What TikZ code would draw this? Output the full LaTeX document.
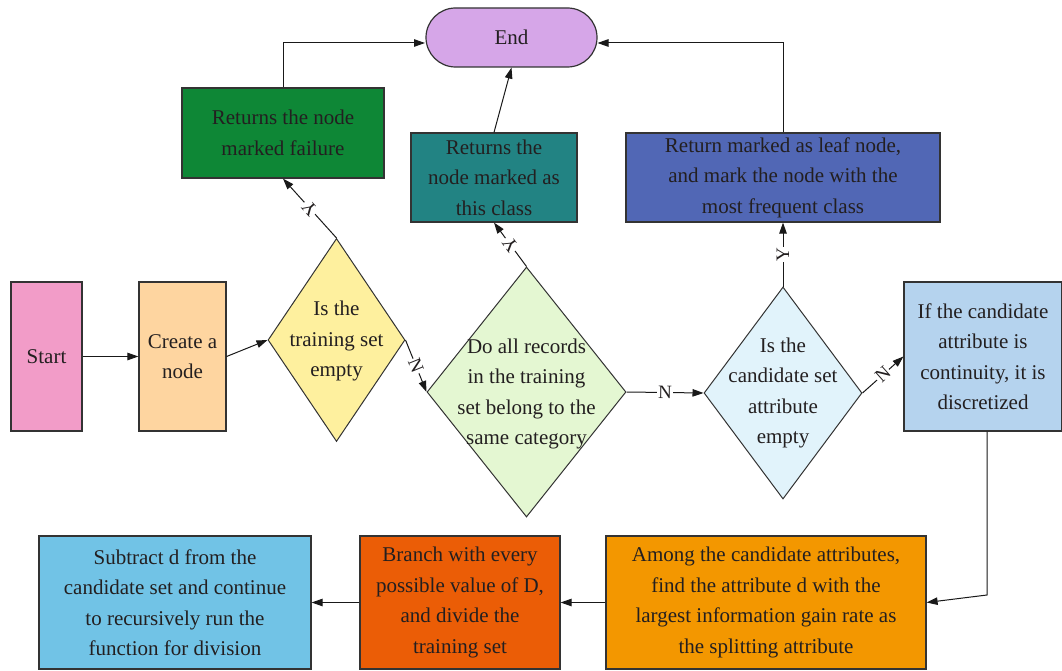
\documentclass[tikz,border=0pt]{standalone}
\usepackage{fontspec}
\setmainfont{Liberation Serif}
\usetikzlibrary{shapes.geometric,arrows.meta}
\definecolor{startC}{HTML}{F29CC8}
\definecolor{createC}{HTML}{FED5A0}
\definecolor{dOneC}{HTML}{FEF09E}
\definecolor{dTwoC}{HTML}{E4F7D2}
\definecolor{dThreeC}{HTML}{E1F3FB}
\definecolor{discC}{HTML}{B5D3EE}
\definecolor{endC}{HTML}{D6A6E8}
\definecolor{failC}{HTML}{0E8736}
\definecolor{tealC}{HTML}{228383}
\definecolor{leafC}{HTML}{5167B5}
\definecolor{amongC}{HTML}{F39700}
\definecolor{branchC}{HTML}{EB5D06}
\definecolor{subC}{HTML}{71C3E6}
\definecolor{edgeC}{HTML}{333333}
\definecolor{txtC}{HTML}{231F20}
\tikzset{
  box/.style={draw=edgeC, line width=1.2pt, rectangle, inner sep=0pt, align=center,
    text=txtC, font=\fontsize{21}{30.5}\selectfont},
  dia/.style={draw=edgeC, line width=1pt, diamond, inner sep=0pt},
  dtext/.style={align=center, text=txtC, font=\fontsize{21}{30.5}\selectfont, inner sep=0pt},
  arr/.style={draw=black!90, line width=1pt, -{Triangle[length=11pt,width=7.5pt]}},
  lbl/.style={fill=white, inner sep=1pt, text=txtC, font=\fontsize{19}{19}\selectfont, sloped, allow upside down}
}
\begin{document}
\begin{tikzpicture}[x=1pt,y=-1pt]
\useasboundingbox (0,0) rectangle (1062,671);
% nodes
\node[box, fill=startC, minimum width=71pt, minimum height=149pt] (start) at (46.5,356.5) {Start};
\node[box, fill=createC, minimum width=87pt, minimum height=149pt] (create) at (182.5,356.5) {Create a\\node};
\node[dia, fill=dOneC, minimum width=137pt, minimum height=203pt] (d1) at (336.5,340) {};
\node[dtext] (t1) at (336.5,341) {Is the\\training set\\empty};
\node[dia, fill=dTwoC, minimum width=199pt, minimum height=250pt] (d2) at (526.5,392) {};
\node[dtext] (t2) at (526.5,394) {Do all records\\in the training\\set belong to the\\same category};
\node[dia, fill=dThreeC, minimum width=158pt, minimum height=212pt] (d3) at (783,393) {};
\node[dtext] (t3) at (783,393) {Is the\\candidate set\\attribute\\empty};
\node[box, fill=discC, minimum width=158pt, minimum height=149pt] (disc) at (983,356.5) {If the candidate\\attribute is\\continuity, it is\\discretized};
\node[box, fill=endC, rounded corners=29.5pt, minimum width=171pt, minimum height=59pt] (end) at (511.5,37.5) {End};
\node[box, fill=failC, minimum width=202pt, minimum height=90pt] (fail) at (283,133) {Returns the node\\marked failure};
\node[box, fill=tealC, minimum width=166pt, minimum height=89pt] (teal) at (494,177.5) {Returns the\\node marked as\\this class};
\node[box, fill=leafC, minimum width=314pt, minimum height=89pt] (leaf) at (783,177.5) {Return marked as leaf node,\\and mark the node with the\\most frequent class};
\node[box, fill=amongC, minimum width=320pt, minimum height=133pt] (among) at (766,602.5) {Among the candidate attributes,\\find the attribute d with the\\largest information gain rate as\\the splitting attribute};
\node[box, fill=branchC, minimum width=200pt, minimum height=133pt] (branch) at (460,602.5) {Branch with every\\possible value of D,\\and divide the\\training set};
\node[box, fill=subC, minimum width=272pt, minimum height=133pt] (sub) at (175,602.5) {Subtract d from the\\candidate set and continue\\to recursively run the\\function for division};
% helper coordinates
\coordinate (eL) at (425,43);
\coordinate (eR) at (597.5,43);
\coordinate (bend) at (987,595);
% connectors
\draw[arr] (start.east) -- (create.west);
\draw[arr] (create.east) -- (d1.west);
\draw[arr] (d1.east) -- node[lbl] {N} (d2.west);
\draw[arr] (d2.east) -- node[lbl] {N} (d3.west);
\draw[arr] (d3.east) -- node[lbl] {N} (disc.west);
\draw[arr] (d1.north) -- node[lbl] {Y} (fail.south);
\draw[arr] (d2.north) -- node[lbl] {Y} (teal.south);
\draw[arr] (d3.north) -- node[lbl] {Y} (leaf.south);
\draw[arr] (fail.north) |- (eL);
\draw[arr] (leaf.north) |- (eR);
\draw[arr] (teal.north) -- (end.south);
\draw[arr] (disc.south -| bend) -- (bend) -- (among.east);
\draw[arr] (among.west) -- (branch.east);
\draw[arr] (branch.west) -- (sub.east);
\end{tikzpicture}
\end{document}
